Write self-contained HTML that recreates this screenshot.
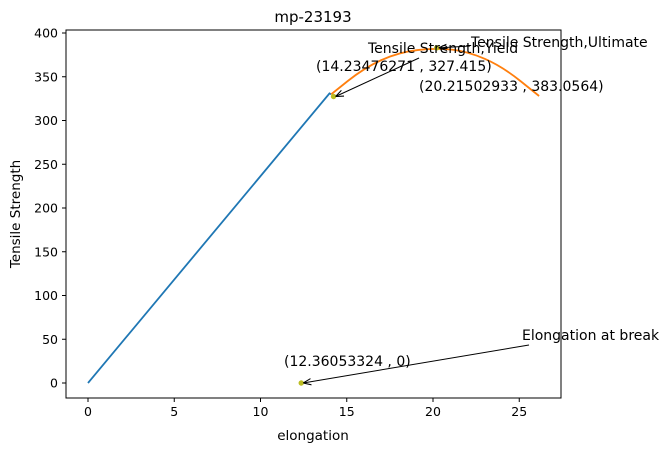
<!DOCTYPE html>
<html><head><meta charset="utf-8"><style>
body{margin:0;background:#fff;}
svg text{font-family:"DejaVu Sans","Liberation Sans",sans-serif;fill:#000;}
</style></head><body>
<svg id="chart" width="668" height="453" xmlns="http://www.w3.org/2000/svg">
<defs><marker id="ah" viewBox="0 0 10 10" refX="10" refY="5" markerWidth="8" markerHeight="8" orient="auto-start-reverse"><path d="M0,1 L10,5 L0,9" fill="none" stroke="#000" stroke-width="1.3"/></marker></defs>
<text x="313" y="22" font-size="15" text-anchor="middle">mp-23193</text>
<g id="marks"></g>
<rect x="66" y="30" width="495" height="368" fill="none" stroke="#000" stroke-width="1"/>
<g id="axes"></g>
<text x="313" y="440" font-size="13.5" text-anchor="middle">elongation</text>
<text transform="translate(20,214) rotate(-90)" font-size="13.5" text-anchor="middle">Tensile Strength</text>
</svg>
<script>
const xTicks=[0,5,10,15,20,25];
const yTicks=[0,50,100,150,200,250,300,350,400];
const elasticX=[0,14.0,14.1];
const elasticY=[0,331,330];
const plasticX=[14.1,16,18,20.2,22,24,26.15];
const plasticY=[330,360,378,383,379,362,328];
const yieldPt=[14.23476271,327.415];
const ultPt=[20.21502933,383.0564];
const breakPt=[12.36053324,0];
const X=v=>88+v*17.25, Y=v=>383-v*0.875;
const NS="http://www.w3.org/2000/svg";
const ax=document.getElementById('axes'), mk=document.getElementById('marks');
function el(t,a,p){const e=document.createElementNS(NS,t);for(const k in a)e.setAttribute(k,a[k]);p.appendChild(e);return e;}
xTicks.forEach(v=>{
 const l=el('line',{x1:X(v),x2:X(v),y1:398,y2:402,stroke:'#000'},ax);
 
 
 const t=el('text',{x:X(v),y:416,'font-size':12.5,'text-anchor':'middle'},ax);t.textContent=v;
 
 
});
yTicks.forEach(v=>{
 const l=el('line',{x1:62,x2:66,y1:Y(v),y2:Y(v),stroke:'#000'},ax);
 
 
 const t=el('text',{x:58,y:Y(v)+4.5,'font-size':12.5,'text-anchor':'end'},ax);t.textContent=v;
 
 
});
const pts=(xs,ys)=>xs.map((x,i)=>X(x)+','+Y(ys[i])).join(' ');
const p1=el('polyline',{points:pts(elasticX,elasticY),fill:'none',stroke:'#1f77b4','stroke-width':1.8},mk);


let d='M'+X(plasticX[0])+','+Y(plasticY[0]);
for(let i=1;i<plasticX.length;i++){const mx=(X(plasticX[i-1])+X(plasticX[i]))/2;d+=' Q'+X(plasticX[i-1])+','+Y(plasticY[i-1])+' '+mx+','+((Y(plasticY[i-1])+Y(plasticY[i]))/2);}
d+=' L'+X(plasticX[plasticX.length-1])+','+Y(plasticY[plasticY.length-1]);
const p2=el('path',{d:d,fill:'none',stroke:'#ff7f0e','stroke-width':1.8},mk);


[[yieldPt,'yield-point'],[ultPt,'ultimate-point'],[breakPt,'break-point']].forEach(([p,n])=>{
 const c=el('circle',{cx:X(p[0]),cy:Y(p[1]),r:2.7,fill:'#bcbd22'},mk);
 
 
});
function ann(txt,tx,ty,p,x0,y0,n){
 const t=el('text',{x:tx,y:ty,'font-size':14},mk);t.textContent=txt;
 
 
 if(p){const a=el('line',{x1:x0,y1:y0,x2:X(p[0])+2,y2:Y(p[1]),stroke:'#000','stroke-width':1,'marker-end':'url(#ah)'},mk);
 
 }
}
ann('Tensile Strength,Yield',368,53,yieldPt,419,58,'yield-label');
ann('('+yieldPt[0]+' , '+yieldPt[1]+')',316,71,null,0,0,'yield-value');
ann('Tensile Strength,Ultimate',471,47,ultPt,470,46,'ultimate-label');
ann('('+ultPt[0]+' , '+ultPt[1]+')',419,91,null,0,0,'ultimate-value');
ann('Elongation at break',522,340,breakPt,529,345,'break-label');
ann('('+breakPt[0]+' , '+breakPt[1]+')',284,366,null,0,0,'break-value');
</script>
</body></html>
